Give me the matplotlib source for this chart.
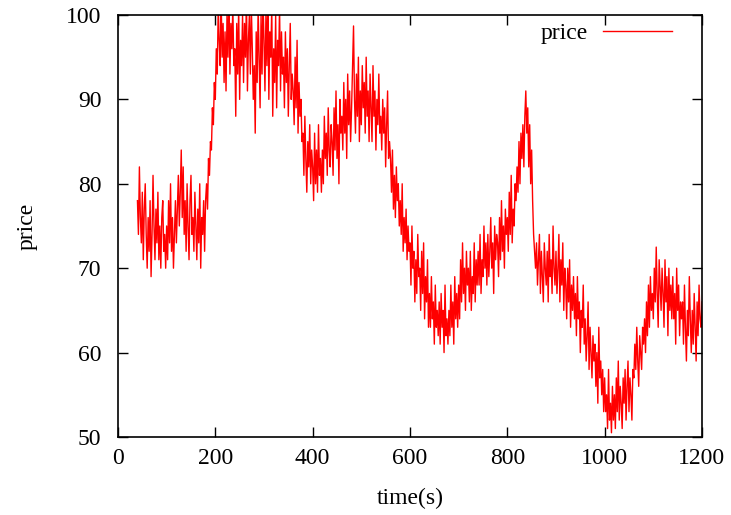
"""
Price over time, gnuplot-style line chart.
"""
import numpy as np
import matplotlib
matplotlib.use('Agg')
import matplotlib.pyplot as plt

# sampled every 2 s starting at t=40 (one row = 20 s)
t_start, t_step = 40, 2
price = [
    78, 74, 82, 76, 73, 79, 71, 77, 80, 74,
    70, 76, 72, 78, 69, 74, 81, 75, 71, 77,
    73, 79, 71, 75, 70, 76, 78, 72, 74, 70,
    75, 71, 78, 73, 80, 72, 76, 70, 74, 78,
    73, 77, 81, 75, 79, 84, 76, 82, 74, 78,
    72, 80, 75, 71, 78, 81, 74, 76, 72, 79,
    75, 71, 77, 73, 80, 70, 76, 74, 78, 72,
    78, 80, 77, 83, 81, 85, 84, 89, 87, 92,
    90, 96, 93, 101, 97, 94, 102, 95, 99, 92,
    98, 91, 100, 95, 103, 93, 99, 96, 101, 94,
    96, 88, 99, 93, 101, 90, 97, 94, 100, 92,
    99, 95, 102, 91, 97, 100, 93, 101, 96, 90,
    94, 86, 98, 92, 101, 95, 89, 100, 93, 102,
    97, 91, 100, 94, 103, 90, 98, 95, 101, 88,
    96, 92, 100, 89, 97, 94, 101, 91, 98, 93,
    95, 89, 98, 92, 96, 88, 94, 99, 90, 93,
    91, 87, 95, 89, 97, 86, 92, 88, 90, 85,
    86, 81, 88, 83, 79, 85, 82, 87, 80, 84,
    82, 78, 86, 80, 84, 79, 87, 81, 83, 79,
    84, 80, 88, 83, 86, 81, 89, 84, 82, 87,
    85, 81, 89, 84, 91, 83, 87, 80, 90, 86,
    88, 84, 92, 86, 90, 83, 93, 87, 91, 85,
    89, 94, 98.7, 90, 86, 93, 88, 95, 85, 91,
    87, 94, 89, 92, 86, 95, 88, 91, 85, 93,
    89, 85, 94, 88, 91, 84, 90, 87, 93, 86,
    88, 84, 90, 86, 89, 82, 87, 91, 83, 85,
    83, 79, 84, 77, 81, 76, 82, 78, 80, 75,
    78, 74, 80, 72, 76, 73, 77, 71, 75, 72,
    73, 68, 75, 70, 72, 66, 71, 67, 74, 69,
    70, 65, 72, 67, 73, 64, 69, 66, 71, 63,
    67, 63, 69, 64, 66, 61, 68, 63, 65, 62,
    66, 61, 67, 63, 65, 60, 68, 62, 64, 61,
    65, 62, 68, 63, 66, 61, 69, 64, 67, 63,
    68, 64, 71, 66, 73, 67, 70, 65, 72, 68,
    70, 66, 72, 65, 69, 67, 73, 66, 71, 68,
    72, 68, 74, 67, 71, 69, 75, 70, 73, 68,
    74, 69, 72, 76, 70, 73, 67, 75, 71, 74,
    73, 69, 76, 71, 78, 72, 75, 70, 77, 74,
    76, 72, 79, 74, 81, 73, 77, 75, 80, 78,
    82, 79, 85, 80, 86, 83, 87, 82, 88, 91,
    86, 89, 82, 87, 80, 84, 78, 74, 72, 70,
    73, 68, 71, 74, 67, 72, 69, 66, 73, 70,
    68, 72, 66, 74, 69, 71, 67, 75, 70, 68,
    72, 67, 70, 74, 66, 71, 68, 73, 65, 70,
    68, 64, 70, 66, 71, 63, 68, 65, 69, 64,
    67, 62, 69, 64, 66, 60, 65, 63, 68, 61,
    64, 59, 62, 66, 58, 63, 60, 57, 62, 59,
    61, 56, 60, 54, 63, 57, 59, 55, 58, 53,
    57, 53, 55, 51, 58, 52, 54, 50.5, 56, 52,
    55, 51, 57, 53, 59, 52, 56, 54, 51, 57,
    54, 58, 52, 56, 59, 53, 57, 55, 52, 58,
    57, 61, 58, 63, 59, 56, 62, 60, 58, 63,
    61, 64, 60, 66, 62, 68, 63, 69, 65, 67,
    64, 70, 66, 72.5, 67, 63, 71, 68, 65, 70,
    67, 63, 71, 66, 69, 62, 70, 65, 68, 64,
    69, 64, 67, 61, 70, 65, 68, 62, 66, 64,
    66, 61, 68, 63, 59, 65, 62, 69, 64, 60,
    65, 61, 67, 63, 59, 66, 62, 68, 64, 63,
    66,
]
x_ticks = [0, 200, 400, 600, 800, 1000, 1200]
y_ticks = [50, 60, 70, 80, 90, 100]

plt.rcParams['font.family'] = ['Liberation Serif', 'DejaVu Serif']

time = t_start + t_step * np.arange(len(price))

fig = plt.figure(figsize=(7.31, 5.15), dpi=100)
ax = fig.add_axes([0.1614, 0.1515, 0.7989, 0.8194])
ax.plot(time, price, color='#ff0000', lw=1.0, label='price')

ax.set_xlim(0, 1200)
ax.set_ylim(50, 100)
ax.set_xticks(x_ticks)
ax.set_yticks(y_ticks)
ax.tick_params(direction='in', length=7, width=1, top=True, right=True,
               labelsize=17)
ax.tick_params(axis='x', pad=8)
ax.tick_params(axis='y', pad=12)
for s in ax.spines.values():
    s.set_linewidth(1.2)

ax.set_xlabel('time(s)', fontsize=17, va='center')
ax.xaxis.set_label_coords(0.5, -0.1445)
ax.set_ylabel('price', fontsize=17, va='center')
ax.yaxis.set_label_coords(-0.156, 0.5)

ax.legend(loc='center right', bbox_to_anchor=(0.9486, 0.957), frameon=False,
          markerfirst=False, fontsize=17, handlelength=2.9,
          handletextpad=0.68, borderpad=0, borderaxespad=0)

fig.savefig('out.png', dpi=100)
